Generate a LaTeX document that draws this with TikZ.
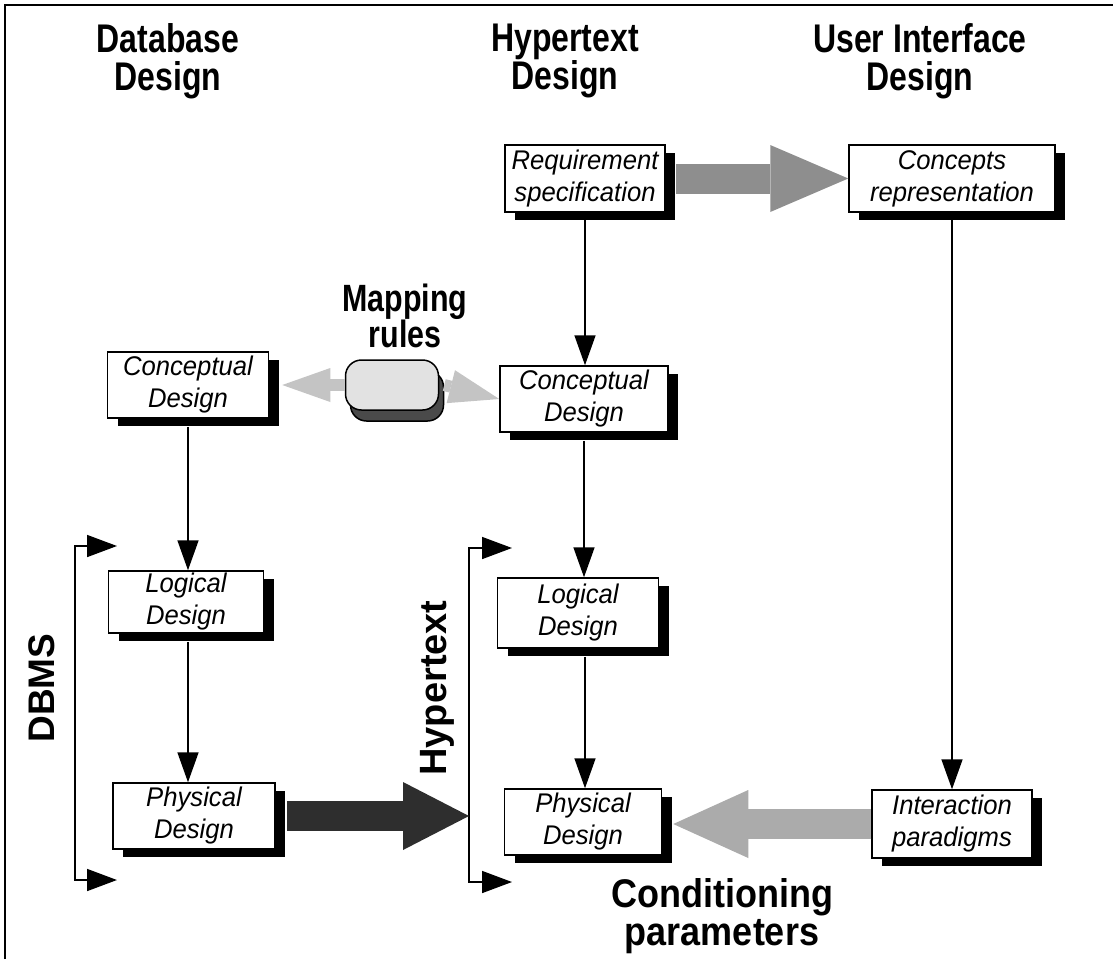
\documentclass[tikz,border=0pt]{standalone}
\usepackage{fontspec}
\setmainfont{Liberation Sans}
\newfontfamily\hdrfont{Liberation Sans}[FakeStretch=0.8]
\newfontfamily\condfont{Liberation Sans}[FakeStretch=0.9]
\newfontfamily\boxfont{Liberation Sans}[FakeStretch=0.95]
\usetikzlibrary{arrows.meta,shadows,calc}
\definecolor{reqgray}{HTML}{8E8E8E}
\definecolor{lightgr}{HTML}{C4C4C4}
\definecolor{condgray}{HTML}{ABABAB}
\definecolor{darkgr}{HTML}{2E2E2E}
\definecolor{mapfill}{HTML}{E2E2E2}
\definecolor{mapshadow}{HTML}{4A4A4A}
\begin{document}
\begin{tikzpicture}[x=1pt,y=-1pt,
  box/.style={draw=black, line width=1.5pt, fill=white, align=center, inner sep=1pt,
    font=\boxfont\fontsize{27}{32}\selectfont\itshape,
    drop shadow={shadow xshift=10pt, shadow yshift=-8pt, fill=black, opacity=1}},
  hdr/.style={align=center, font=\hdrfont\fontsize{40}{38}\selectfont\bfseries},
  lbl/.style={align=center, font=\hdrfont\fontsize{38}{36}\selectfont\bfseries},
  rlbl/.style={align=center, font=\fontsize{37}{37}\selectfont\bfseries},
  vline/.style={line width=1.6pt, -{Triangle[length=30pt 0 0, width=21pt 0 0]}},
  brk/.style={line width=1.6pt, {Triangle[length=30pt 0 0, width=22pt 0 0]}-{Triangle[length=30pt 0 0, width=22pt 0 0]}},
  block/.style={line width=#1},
  mapbox/.style={draw=black, line width=1.5pt, rounded corners=16pt, fill=mapfill,
    minimum width=93pt, minimum height=50pt,
    drop shadow={shadow xshift=5pt, shadow yshift=-11pt, fill=mapshadow, draw=black, opacity=1}}
]
\useasboundingbox (0,0) rectangle (1113,959);
% frame
\draw[line width=2.5pt] (5,959) -- (5,5) -- (1113,5);

% headers
\node[hdr] (hDB) at (168,61) {Database\\Design};
\node[hdr] (hHT) at (565,61) {Hypertext\\Design};
\node[hdr] (hUI) at (920,61) {User Interface\\Design};

% boxes
\node[box, minimum width=160pt, minimum height=67pt] (req) at (585,178.5) {Requirement\\specification};
\node[box, minimum width=206pt, minimum height=67pt] (conrep) at (952,178.5) {Concepts\\representation};
\node[box, minimum width=161pt, minimum height=66pt] (cdL) at (188,385) {Conceptual\\Design};
\node[box, minimum width=168pt, minimum height=66pt] (cdM) at (584,399) {Conceptual\\Design};
\node[box, minimum width=155pt, minimum height=62pt] (logL) at (186,602) {Logical\\Design};
\node[box, minimum width=161pt, minimum height=70pt] (logM) at (578,613) {Logical\\Design};
\node[box, minimum width=162pt, minimum height=66pt] (phyL) at (194,816) {Physical\\Design};
\node[box, minimum width=157pt, minimum height=66pt] (phyM) at (583,822) {Physical\\Design};
\node[box, minimum width=160pt, minimum height=68pt] (inter) at (952,824) {Interaction\\paradigms};

% mapping rules
\node[lbl] (mapl) at (405,316) {Mapping\\rules};
\node[mapbox] (map) at (392,385) {};

% block arrows
\draw[reqgray, block=30pt, -{Triangle[length=78pt 0 0, width=67pt 0 0, line width=0pt 0 0]}]
  ([xshift=10pt]req.east) -- (conrep.west);
\draw[lightgr, block=12pt, -{Triangle[length=48pt 0 0, width=34pt 0 0, line width=0pt 0 0]}]
  (map.west) -- ([xshift=13pt]cdL.east);
\draw[lightgr, block=12pt, -{Triangle[length=50pt 0 0, width=34pt 0 0, line width=0pt 0 0]}]
  ([xshift=5pt]map.east) -- (cdM.west);

% vertical connectors
\draw[vline] (req.south) -- (req.south |- cdM.north);
\draw[vline] (conrep.south) -- (inter.north);
\draw[vline] ([yshift=-8pt]cdL.south) -- (cdL.south |- logL.north);
\draw[vline] ([yshift=-8pt]cdM.south) -- (cdM.south |- logM.north);
\draw[vline] ([xshift=2pt,yshift=-8pt]logL.south) -- ([xshift=2pt]logL.south |- phyL.north);
\draw[vline] ([xshift=7pt,yshift=-8pt]logM.south) -- ([xshift=7pt]logM.south |- phyM.north);

% brackets
\coordinate (dbT) at (117,546);
\coordinate (dbTL) at (75,546);
\coordinate (dbBL) at (75,880);
\coordinate (dbB) at (117,880);
\draw[brk] (dbT) -- (dbTL) -- (dbBL) -- (dbB);
\coordinate (htT) at (512,548);
\coordinate (htTL) at (469,548);
\coordinate (htBL) at (469,882);
\coordinate (htB) at (512,882);
\draw[brk] (htT) -- (htTL) -- (htBL) -- (htB);

\node[rlbl, rotate=90] (dbms) at (42,688) {DBMS};
\node[rlbl, rotate=90, font=\fontsize{38}{38}\selectfont\bfseries] (hyp) at (437,688) {Hypertext};

% lower block arrows
\draw[darkgr, block=30pt, -{Triangle[length=66pt 0 0, width=68pt 0 0, line width=0pt 0 0]}]
  ([xshift=11pt]phyL.east) -- (phyL.east -| htTL);
\draw[condgray, block=30pt, -{Triangle[length=75pt 0 0, width=68pt 0 0, line width=0pt 0 0]}]
  (inter.west) -- ([xshift=11pt]phyM.east |- inter.west);

\node[align=center, font=\condfont\fontsize{40}{38}\selectfont\bfseries] (cond) at (722,916) {Conditioning\\parameters};
\end{tikzpicture}
\end{document}
